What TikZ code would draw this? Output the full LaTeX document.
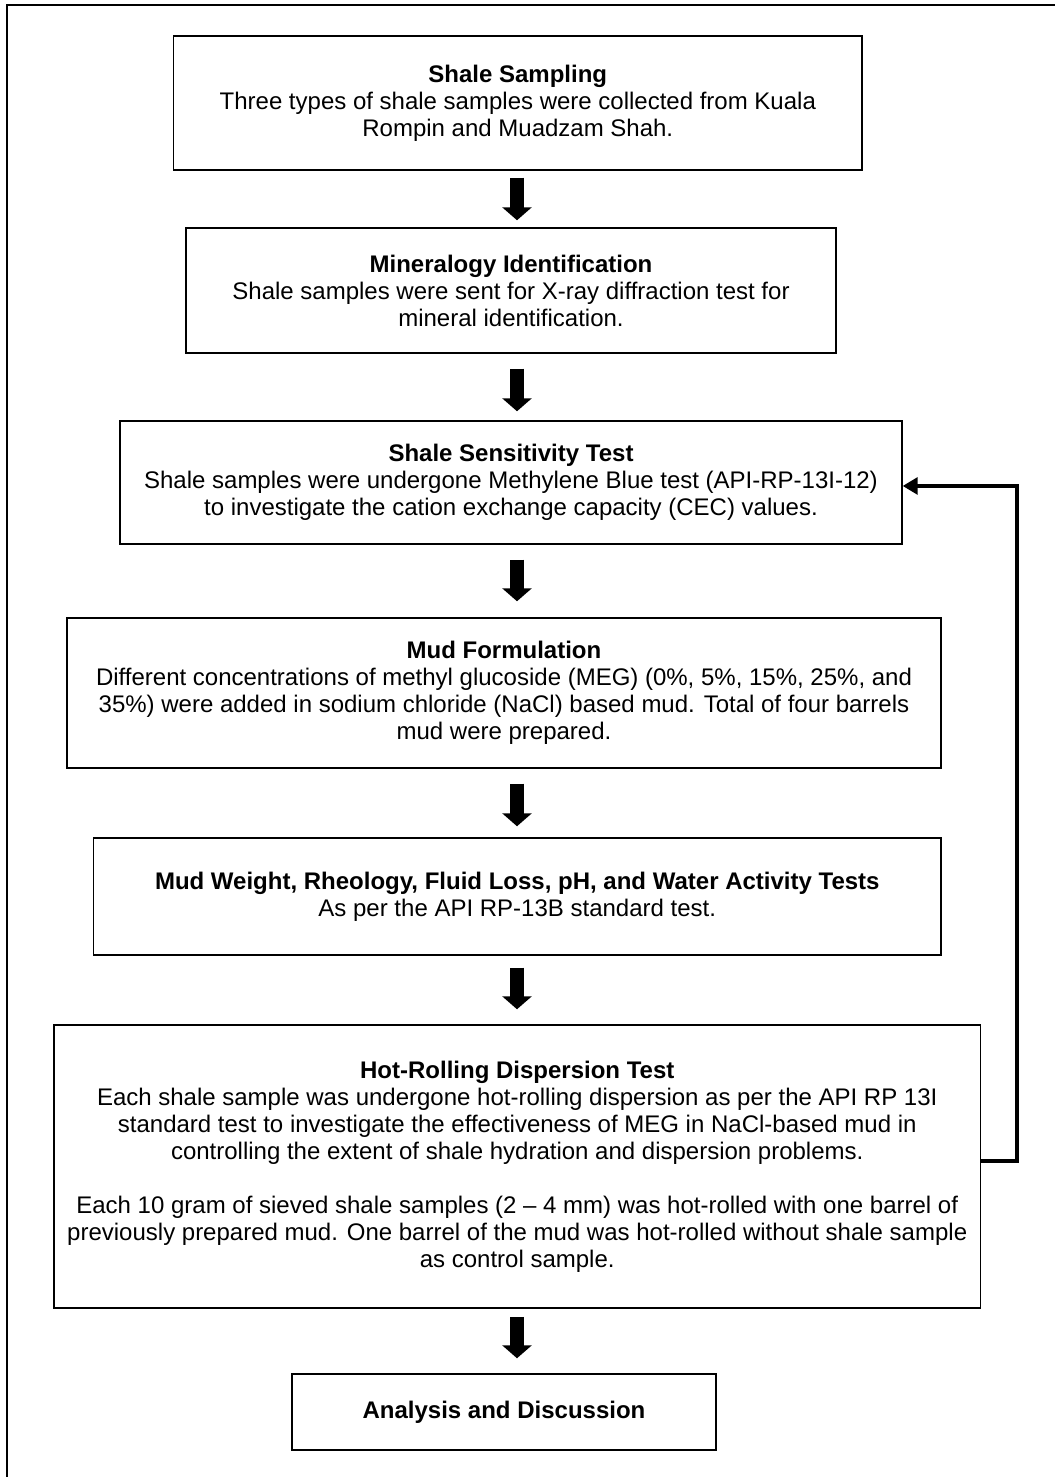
\documentclass[tikz,border=0pt]{standalone}
\usepackage{fontspec}
\setmainfont{Liberation Sans}
\usetikzlibrary{arrows.meta}
\begin{document}
\begin{tikzpicture}[x=0.75pt,y=-0.75pt,
  every node/.style={font=\fontsize{18}{20.25}\selectfont},
  procbox/.style={draw,line width=1.1pt,inner sep=0pt,align=center},
  fatarrow/.style={line width=10.5pt,-{Triangle[width=21.75pt,length=9.75pt]}},
  fbline/.style={line width=2.4pt,-{Triangle[width=12.75pt,length=11.25pt]}},
  frameline/.style={line width=1.5pt}]
\useasboundingbox (0,0) rectangle (1055,1477);
\draw[frameline] (7,1477) -- (7,5.3) -- (1055,5.3);
\node[procbox,minimum width=516.3pt,minimum height=100.5pt] (b1) at (517.8,103)
 {\textbf{Shale Sampling}\\Three types of shale samples were collected from Kuala\\Rompin and Muadzam Shah.};
\node[procbox,minimum width=487.5pt,minimum height=93.75pt] (b2) at (511,290.5)
 {\textbf{Mineralogy Identification}\\Shale samples were sent for X-ray diffraction test for\\mineral identification.};
\node[procbox,minimum width=586.5pt,minimum height=92.25pt] (b3) at (511,482.5)
 {\textbf{Shale Sensitivity Test}\\Shale samples were undergone Methylene Blue test (API-RP-13I-12)\\to investigate the cation exchange capacity (CEC) values.};
\node[procbox,minimum width=655.5pt,minimum height=112.5pt] (b4) at (504,693)
 {\textbf{Mud Formulation}\\Different concentrations of methyl glucoside (MEG) (0\%, 5\%, 15\%, 25\%, and\\35\%) were added in sodium chloride (NaCl) based mud. Total of four barrels\\mud were prepared.};
\node[procbox,minimum width=635.6pt,minimum height=87.75pt] (b5) at (517.25,896.5)
 {\textbf{Mud Weight, Rheology, Fluid Loss, pH, and Water Activity Tests}\\As per the API RP-13B standard test.};
\node[procbox,minimum width=694.9pt,minimum height=212.25pt] (b6) at (517.25,1166.5)
 {\textbf{Hot-Rolling Dispersion Test}\\Each shale sample was undergone hot-rolling dispersion as per the API RP 13I\\standard test to investigate the effectiveness of MEG in NaCl-based mud in\\controlling the extent of shale hydration and dispersion problems.\\[20.25pt]Each 10 gram of sieved shale samples (2 – 4 mm) was hot-rolled with one barrel of\\previously prepared mud. One barrel of the mud was hot-rolled without shale sample\\as control sample.};
\node[procbox,minimum width=318pt,minimum height=57pt] (b7) at (504,1412)
 {\textbf{Analysis and Discussion}};
\coordinate (ax) at (517,0);
\coordinate (fbx) at (1017,0);
\draw[fatarrow,shorten <=5.25pt,shorten >=5.25pt] (b1.south -| ax) -- (b2.north -| ax);
\draw[fatarrow,shorten <=11.25pt,shorten >=6.75pt] (b2.south -| ax) -- (b3.north -| ax);
\draw[fatarrow,shorten <=11.25pt,shorten >=12pt] (b3.south -| ax) -- (b4.north -| ax);
\draw[fatarrow,shorten <=11.25pt,shorten >=8.25pt] (b4.south -| ax) -- (b5.north -| ax);
\draw[fatarrow,shorten <=9pt,shorten >=11.25pt] (b5.south -| ax) -- (b6.north -| ax);
\draw[fatarrow,shorten <=6pt,shorten >=11.25pt] (b6.south -| ax) -- (b7.north -| ax);
\draw[fbline] ([yshift=4.1pt]b6.east) -- ([yshift=4.1pt]b6.east -| fbx) -- ([yshift=-2.6pt]b3.east -| fbx) -- ([yshift=-2.6pt]b3.east);
\end{tikzpicture}
\end{document}
